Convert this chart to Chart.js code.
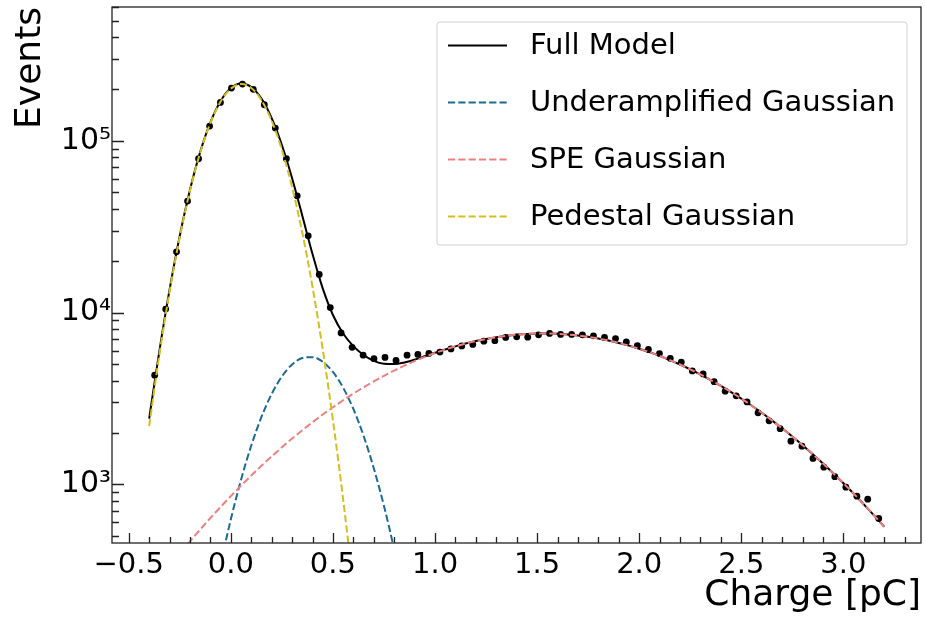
<!DOCTYPE html>
<html>
<head>
<meta charset="utf-8">
<script src="https://cdn.jsdelivr.net/npm/chart.js@4.4.1/dist/chart.umd.min.js"></script>
<style>
  html, body { margin: 0; padding: 0; background: #fff; }
  #wrap { width: 925px; height: 618px; }
</style>
</head>
<body>
<div id="wrap"><canvas id="chart" width="925" height="618"></canvas></div>
<script>
// Charge spectrum: histogram points + fitted model (log y)

// histogram bin centres [pC] and counts
const binCenters = [-0.373, -0.319, -0.266, -0.212, -0.158, -0.104, -0.051, 0.003, 0.057, 0.110,
  0.164, 0.218, 0.272, 0.325, 0.379, 0.433, 0.487, 0.540, 0.594, 0.648,
  0.701, 0.755, 0.809, 0.863, 0.916, 0.970, 1.024, 1.078, 1.131, 1.185,
  1.239, 1.293, 1.346, 1.400, 1.454, 1.507, 1.561, 1.615, 1.669, 1.722,
  1.776, 1.830, 1.884, 1.937, 1.991, 2.045, 2.099, 2.152, 2.206, 2.260,
  2.313, 2.367, 2.421, 2.475, 2.528, 2.582, 2.636, 2.690, 2.743, 2.797,
  2.851, 2.904, 2.958, 3.012, 3.066, 3.119, 3.173];
const eventCounts = [4319, 10470, 22570, 44550, 78570, 121800, 167300, 202700, 213900, 199200,
  162100, 118600, 78570, 47830, 27960, 16670, 10680, 7607, 6271, 5648,
  5389, 5476, 5260, 5648, 5702, 5779, 5881, 6138, 6390, 6520,
  6814, 6860, 7161, 7219, 7189, 7414, 7556, 7456, 7456, 7414,
  7316, 7161, 7047, 6742, 6415, 6097, 5763, 5412, 5142, 4569,
  4389, 3959, 3485, 3273, 3015, 2605, 2340, 2108, 1782, 1667,
  1414, 1258, 1107, 962, 852, 819, 632];

// model curves
const modelX = [-0.40, -0.35, -0.30, -0.25, -0.20, -0.15, -0.10, -0.05, 0.00, 0.05,
  0.10, 0.15, 0.20, 0.25, 0.30, 0.35, 0.40, 0.45, 0.50, 0.55,
  0.60, 0.65, 0.70, 0.75, 0.80, 0.85, 0.90, 0.95, 1.00, 1.05,
  1.10, 1.15, 1.20, 1.25, 1.30, 1.35, 1.40, 1.45, 1.50, 1.55,
  1.60, 1.65, 1.70, 1.75, 1.80, 1.85, 1.90, 1.95, 2.00, 2.05,
  2.10, 2.15, 2.20, 2.25, 2.30, 2.35, 2.40, 2.45, 2.50, 2.55,
  2.60, 2.65, 2.70, 2.75, 2.80, 2.85, 2.90, 2.95, 3.00, 3.05,
  3.10, 3.15, 3.20];
const fullModel = [2414, 5963, 13580, 28010, 51870, 86160, 128100, 170400, 202700, 215800,
  205800, 176100, 135500, 94550, 60560, 36630, 21890, 13820, 9677, 7551,
  6368, 5653, 5230, 5032, 5010, 5121, 5317, 5562, 5827, 6095,
  6354, 6596, 6818, 7016, 7184, 7325, 7432, 7504, 7544, 7549,
  7518, 7452, 7354, 7221, 7060, 6869, 6653, 6414, 6154, 5878,
  5587, 5286, 4981, 4668, 4356, 4046, 3741, 3442, 3153, 2874,
  2608, 2356, 2118, 1895, 1688, 1497, 1321, 1160, 1014, 883,
  764, 659, 566];
const speModel = [235, 281, 334, 395, 465, 545, 636, 738, 853, 982,
  1124, 1281, 1453, 1641, 1845, 2063, 2297, 2546, 2809, 3085,
  3372, 3668, 3972, 4281, 4593, 4905, 5213, 5515, 5808, 6087,
  6351, 6596, 6818, 7016, 7184, 7325, 7432, 7504, 7544, 7549,
  7518, 7452, 7354, 7221, 7060, 6869, 6653, 6414, 6154, 5878,
  5587, 5286, 4981, 4668, 4356, 4046, 3741, 3442, 3153, 2874,
  2608, 2356, 2118, 1895, 1688, 1497, 1321, 1160, 1014, 883,
  764, 659, 566];
const pedestalX = [-0.40, -0.35, -0.30, -0.25, -0.20, -0.15, -0.10, -0.05, 0.00, 0.05,
  0.10, 0.15, 0.20, 0.25, 0.30, 0.35, 0.40, 0.45, 0.50, 0.55, 0.60, 0.65];
const pedestalModel = [2178, 5680, 13240, 27600, 51370, 85530, 127300, 169300, 201200, 213800,
  203000, 172400, 130700, 88660, 53730, 29130, 14100, 6105, 2362, 817, 252, 70];
const underampX = [-0.15, -0.10, -0.05, 0.00, 0.05, 0.10, 0.15, 0.20, 0.25, 0.30,
  0.35, 0.40, 0.45, 0.50, 0.55, 0.60, 0.65, 0.70, 0.75, 0.80, 0.85, 0.90];
const underampModel = [81, 173, 341, 625, 1063, 1680, 2465, 3357, 4245, 4984,
  5433, 5497, 5164, 4506, 3649, 2744, 1915, 1241, 747, 417, 216, 104];

// axes
const xTicks = [-0.5, 0.0, 0.5, 1.0, 1.5, 2.0, 2.5, 3.0];
const yTicks = [1e3, 1e4, 1e5];
const supDigits = {2: '²', 3: '³', 4: '⁴', 5: '⁵', 6: '⁶'};

const legendLabels = ['Full Model', 'Underamplified Gaussian', 'SPE Gaussian', 'Pedestal Gaussian'];

Chart.defaults.font.family = "'DejaVu Sans', sans-serif";
Chart.defaults.color = '#000';

const pts = (xs, ys) => xs.map((x, i) => ({x: x, y: ys[i]}));

const dash = [7.2, 3.1];

// inward ticks + full frame, like the matplotlib original
const frameTicks = {
  id: 'frameTicks',
  afterDatasetsDraw(chart) {
    const ctx = chart.ctx;
    const a = chart.chartArea;
    const xs = chart.scales.x, ys = chart.scales.y;
    ctx.save();
    ctx.strokeStyle = '#222';
    ctx.lineWidth = 1.3;
    ctx.beginPath();
    xTicks.forEach(v => {
      const px = Math.round(xs.getPixelForValue(v)) + 0.5;
      ctx.moveTo(px, a.bottom); ctx.lineTo(px, a.bottom - 10);
    });
    for (let k = -5; k <= 33; k++) {
      if (k % 5 === 0) continue;
      const px = Math.round(xs.getPixelForValue(k / 10)) + 0.5;
      ctx.moveTo(px, a.bottom); ctx.lineTo(px, a.bottom - 6);
    }
    yTicks.forEach(v => {
      const py = Math.round(ys.getPixelForValue(v)) + 0.5;
      ctx.moveTo(a.left, py); ctx.lineTo(a.left + 12, py);
    });
    [100, 1000, 10000, 100000].forEach(d => {
      for (let m = 2; m <= 9; m++) {
        const v = m * d;
        if (v < ys.min || v > ys.max) continue;
        const py = Math.round(ys.getPixelForValue(v)) + 0.5;
        ctx.moveTo(a.left, py); ctx.lineTo(a.left + 7, py);
      }
    });
    ctx.stroke();
    ctx.strokeRect(a.left, a.top, a.right - a.left, a.bottom - a.top);
    ctx.restore();
  }
};

// legend box in the upper right
const boxLegend = {
  id: 'boxLegend',
  afterDraw(chart) {
    const ctx = chart.ctx;
    const x0 = 437, y0 = 22, w = 470, h = 223;
    ctx.save();
    ctx.beginPath();
    ctx.roundRect(x0, y0, w, h, 3);
    ctx.fillStyle = 'rgba(255,255,255,0.8)';
    ctx.fill();
    ctx.strokeStyle = '#d0d0d0';
    ctx.lineWidth = 1;
    ctx.stroke();
    ctx.font = "29px 'DejaVu Sans'";
    ctx.textBaseline = 'middle';
    ctx.textAlign = 'left';
    legendLabels.forEach((lab, i) => {
      const ds = chart.data.datasets.find(d => d.label === lab);
      const y = 45.5 + i * 57;
      ctx.beginPath();
      ctx.setLineDash(ds.borderDash || []);
      ctx.strokeStyle = ds.borderColor;
      ctx.lineWidth = ds.borderWidth;
      ctx.moveTo(448, y); ctx.lineTo(507, y);
      ctx.stroke();
      ctx.setLineDash([]);
      ctx.fillStyle = '#000';
      ctx.fillText(lab, 530, y + 1);
    });
    ctx.restore();
  }
};

new Chart(document.getElementById('chart'), {
  type: 'line',
  data: {
    datasets: [
      {
        label: 'Data', type: 'scatter', data: pts(binCenters, eventCounts),
        backgroundColor: '#000', borderColor: '#000', pointRadius: 3.4, pointBorderWidth: 0,
        showLine: false, order: 5
      },
      {
        label: 'Full Model', data: pts(modelX, fullModel),
        borderColor: '#000', borderWidth: 2, pointRadius: 0,
        cubicInterpolationMode: 'monotone', order: 4
      },
      {
        label: 'Underamplified Gaussian', data: pts(underampX, underampModel),
        borderColor: '#1c6a92', borderWidth: 2, borderDash: dash, pointRadius: 0,
        cubicInterpolationMode: 'monotone', order: 3
      },
      {
        label: 'SPE Gaussian', data: pts(modelX, speModel),
        borderColor: '#f08080', borderWidth: 2, borderDash: dash, pointRadius: 0,
        cubicInterpolationMode: 'monotone', order: 2
      },
      {
        label: 'Pedestal Gaussian', data: pts(pedestalX, pedestalModel),
        borderColor: '#d4bf1e', borderWidth: 2, borderDash: dash, pointRadius: 0,
        cubicInterpolationMode: 'monotone', order: 1
      }
    ]
  },
  options: {
    responsive: false,
    animation: false,
    layout: { padding: { top: 7, right: 3, left: 0, bottom: 0 } },
    plugins: { legend: { display: false }, tooltip: { enabled: false } },
    scales: {
      x: {
        type: 'linear', min: -0.582, max: 3.38,
        grid: { display: false, drawTicks: false }, border: { display: false },
        afterBuildTicks: s => { s.ticks = xTicks.map(v => ({value: v})); },
        afterFit: s => { s.height = 75; s.paddingLeft = 0; s.paddingRight = 0; },
        ticks: {
          font: { size: 29 }, padding: 5, maxRotation: 0,
          callback: v => (v < 0 ? '\u2212' : '') + Math.abs(v).toFixed(1)
        },
        title: { display: true, text: 'Charge [pC]', align: 'end', font: { size: 36 }, padding: { top: 0, bottom: 1 } }
      },
      y: {
        type: 'logarithmic', min: 455, max: 601000,
        grid: { display: false, drawTicks: false }, border: { display: false },
        afterBuildTicks: s => { s.ticks = yTicks.map(v => ({value: v})); },
        afterFit: s => { s.width = 112; s.paddingTop = 0; s.paddingBottom = 0; },
        ticks: {
          font: { size: 30 }, padding: 1,
          callback: v => '10' + supDigits[Math.round(Math.log10(v))]
        },
        title: { display: true, text: 'Events', align: 'end', font: { size: 36 }, padding: { top: 9, bottom: 0 } }
      }
    }
  },
  plugins: [frameTicks, boxLegend]
});
</script>
</body>
</html>
